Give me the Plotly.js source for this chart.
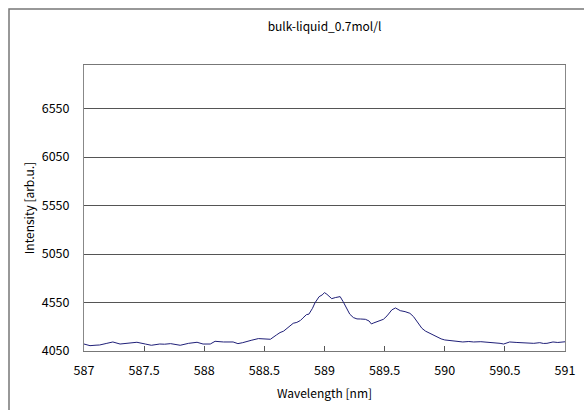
<!DOCTYPE html>
<html>
<head>
<meta charset="utf-8">
<script src="https://cdn.plot.ly/plotly-3.0.1.min.js"></script>
<style>
html,body{margin:0;padding:0;background:#fff;}
#chart{width:584px;height:410px;}
</style>
</head>
<body>
<div id="chart"></div>
<script>
const chartTitle = "bulk-liquid_0.7mol/l";
const xTitle = "Wavelength [nm]";
const yTitle = "Intensity [arb.u.]";

const wavelength = [
587.00,587.05,587.10,587.13,587.19,587.24,587.30,587.34,587.38,587.44,
587.51,587.56,587.63,587.67,587.72,587.76,587.80,587.87,587.94,587.99,
588.05,588.09,588.12,588.16,588.24,588.28,588.32,588.35,588.39,588.45,
588.49,588.55,588.60,588.63,588.66,588.69,588.71,588.74,588.77,588.80,
588.82,588.85,588.87,588.90,588.92,588.935,588.955,588.98,589.00,589.02,
589.04,589.06,589.09,589.13,589.155,589.185,589.21,589.24,589.27,589.30,
589.34,589.37,589.39,589.41,589.43,589.46,589.49,589.52,589.54,589.56,
589.59,589.61,589.63,589.67,589.71,589.74,589.76,589.78,589.81,589.84,
589.88,589.91,589.94,589.97,590.00,590.04,590.07,590.10,590.13,590.15,
590.20,590.24,590.30,590.35,590.40,590.46,590.49,590.52,590.54,590.60,
590.65,590.70,590.74,590.79,590.82,590.85,590.90,590.94,590.99,591.00
];
const intensity = [
4122,4105,4110,4112,4129,4143,4122,4126,4129,4140,
4122,4109,4122,4120,4126,4118,4109,4129,4140,4122,
4122,4150,4145,4143,4143,4126,4136,4143,4160,4178,
4174,4171,4215,4240,4255,4284,4302,4336,4345,4365,
4390,4425,4430,4490,4545,4577,4610,4628,4652,4635,
4610,4590,4601,4611,4559,4481,4430,4395,4381,4380,
4377,4360,4329,4340,4350,4363,4377,4412,4445,4474,
4494,4480,4466,4456,4439,4405,4370,4336,4284,4255,
4230,4210,4192,4175,4164,4160,4156,4153,4145,4143,
4148,4143,4146,4143,4140,4129,4122,4130,4143,4138,
4136,4132,4129,4136,4128,4129,4143,4138,4146,4145
];

const xRange = [587, 591];
const yRange = [4050, 7000];

const font = '"Noto Sans CJK JP", "Noto Sans", sans-serif';

const trace = {
  x: wavelength,
  y: intensity,
  type: 'scatter',
  mode: 'lines',
  line: {color: '#1f1f78', width: 1},
  hoverinfo: 'skip'
};

const layout = {
  width: 584,
  height: 410,
  margin: {l: 84, r: 19, t: 65, b: 59},
  paper_bgcolor: '#ffffff',
  plot_bgcolor: '#ffffff',
  showlegend: false,
  font: {family: font, size: 12, color: '#000'},
  title: {
    text: chartTitle,
    font: {family: font, size: 12, color: '#000'},
    x: 0.5, xref: 'paper', xanchor: 'center',
    y: 1 - 27/410, yref: 'container', yanchor: 'middle'
  },
  xaxis: {
    range: xRange,
    tick0: 587, dtick: 0.5,
    ticks: 'inside', ticklen: 5, tickcolor: '#555', tickwidth: 1,
    showgrid: false, zeroline: false,
    showline: true, linecolor: '#777', linewidth: 1, mirror: true,
    ticklabelstandoff: 8,
    tickfont: {family: font, size: 12.5, color: '#000'},
    title: {text: xTitle, font: {family: font, size: 12, color: '#000'}, standoff: 11}
  },
  yaxis: {
    range: yRange,
    tick0: 4050, dtick: 500,
    ticks: '',
    showgrid: true, gridcolor: '#555', gridwidth: 1,
    zeroline: false,
    showline: true, linecolor: '#888', linewidth: 1, mirror: true,
    ticklabelstandoff: 11,
    tickfont: {family: font, size: 12.5, color: '#000'},
    title: {text: yTitle, font: {family: font, size: 12, color: '#000'}, standoff: 4}
  },
  shapes: [{
    type: 'rect', xref: 'paper', yref: 'paper',
    x0: (9 - 84) / 481, x1: 1.3,
    y0: -0.4, y1: (351 - 9) / 286,
    line: {color: '#777', width: 1.5},
    fillcolor: 'rgba(0,0,0,0)',
    layer: 'below'
  }]
};

Plotly.newPlot('chart', [trace], layout, {displayModeBar: false, staticPlot: true});
</script>
</body>
</html>
